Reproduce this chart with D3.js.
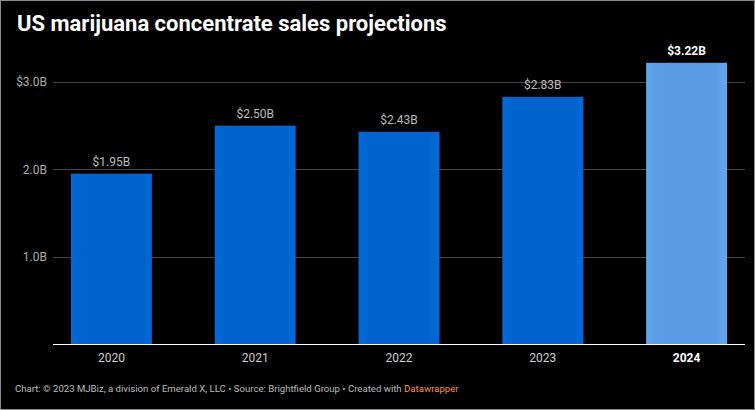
<!DOCTYPE html>
<html>
<head>
<meta charset="utf-8">
<script src="https://cdn.jsdelivr.net/npm/d3@7"></script>
<style>
  body { margin: 0; background: #000; }
  svg { display: block; font-family: Roboto, sans-serif; }
</style>
</head>
<body>
<div id="chart"></div>
<script>
var svgWidth = 755;
var svgHeight = 410;

var years = ["2020", "2021", "2022", "2023", "2024"];
var sales = [1.95, 2.50, 2.43, 2.83, 3.22];
var valueLabels = ["$1.95B", "$2.50B", "$2.43B", "$2.83B", "$3.22B"];
var yTicks = [1, 2, 3];
var yTickLabels = ["1.0B", "2.0B", "$3.0B"];
var highlight = "2024";

var plot = { top: 82, bottom: 344, left: 53, right: 745 };

var svg = d3.select("#chart")
  .append("svg")
  .attr("width", svgWidth)
  .attr("height", svgHeight);

svg.append("rect")
  .attr("x", 0.5).attr("y", 0.5)
  .attr("width", svgWidth - 1).attr("height", svgHeight - 1)
  .attr("fill", "#000")
  .attr("stroke", "#8a8a8a");

svg.append("text")
  .attr("x", 17)
  .attr("y", 31)
  .attr("fill", "#fff")
  .attr("font-size", 22)
  .attr("font-weight", "bold")
  .text("US marijuana concentrate sales projections");

var x = d3.scaleBand()
  .domain(years)
  .range([plot.left, plot.right])
  .paddingInner(0.4375)
  .paddingOuter(0.125);

var y = d3.scaleLinear()
  .domain([0, 3])
  .range([plot.bottom, plot.top]);

// gridlines
var grid = svg.append("g");
grid.selectAll("line")
  .data(yTicks)
  .enter()
  .append("line")
  .attr("x1", plot.left)
  .attr("x2", plot.right)
  .attr("y1", d => Math.round(y(d)) + 0.5)
  .attr("y2", d => Math.round(y(d)) + 0.5)
  .attr("stroke", "#444");

grid.selectAll("text")
  .data(yTicks)
  .enter()
  .append("text")
  .attr("x", 47)
  .attr("y", d => y(d))
  .attr("dy", "0.35em")
  .attr("text-anchor", "end")
  .attr("fill", "#aaa")
  .attr("font-size", 12)
  .text((d, i) => yTickLabels[i]);

// bars
var defs = svg.append("defs");
function addGradient(id, edge, mid) {
  var g = defs.append("linearGradient").attr("id", id);
  g.append("stop").attr("offset", "0%").attr("stop-color", edge);
  g.append("stop").attr("offset", "15%").attr("stop-color", mid);
  g.append("stop").attr("offset", "85%").attr("stop-color", mid);
  g.append("stop").attr("offset", "100%").attr("stop-color", edge);
}
addGradient("gBlue", "#006ad8", "#0062cc");
addGradient("gLight", "#62a8ee", "#5a9de6");

svg.append("g")
  .selectAll("rect")
  .data(years)
  .enter()
  .append("rect")
  .attr("x", d => x(d))
  .attr("width", x.bandwidth())
  .attr("y", (d, i) => y(sales[i]))
  .attr("height", (d, i) => plot.bottom - y(sales[i]))
  .attr("fill", d => d === highlight ? "url(#gLight)" : "url(#gBlue)");

// value labels
svg.append("g")
  .selectAll("text")
  .data(years)
  .enter()
  .append("text")
  .attr("x", d => x(d) + x.bandwidth() / 2)
  .attr("y", (d, i) => y(sales[i]) - 8)
  .attr("text-anchor", "middle")
  .attr("font-size", 12)
  .attr("font-weight", d => d === highlight ? "bold" : "normal")
  .attr("fill", d => d === highlight ? "#fff" : "#bbb")
  .text((d, i) => valueLabels[i]);

// baseline
svg.append("line")
  .attr("x1", plot.left)
  .attr("x2", plot.right)
  .attr("y1", plot.bottom + 0.5)
  .attr("y2", plot.bottom + 0.5)
  .attr("stroke", "#fff");

// x axis labels
svg.append("g")
  .selectAll("text")
  .data(years)
  .enter()
  .append("text")
  .attr("x", d => x(d) + x.bandwidth() / 2)
  .attr("y", 362)
  .attr("text-anchor", "middle")
  .attr("font-size", 12)
  .attr("font-weight", d => d === highlight ? "bold" : "normal")
  .attr("fill", d => d === highlight ? "#fff" : "#ccc")
  .text(d => d);

// footer
var foot = svg.append("text")
  .attr("x", 15)
  .attr("y", 392)
  .attr("font-size", 9.6)
  .attr("fill", "#bbb");
foot.append("tspan").text("Chart: \u00a9 2023 MJBiz, a division of Emerald X, LLC \u2022 Source: Brightfield Group \u2022 Created with ");
foot.append("tspan").attr("fill", "#f7923a").text("Datawrapper");
</script>
</body>
</html>
